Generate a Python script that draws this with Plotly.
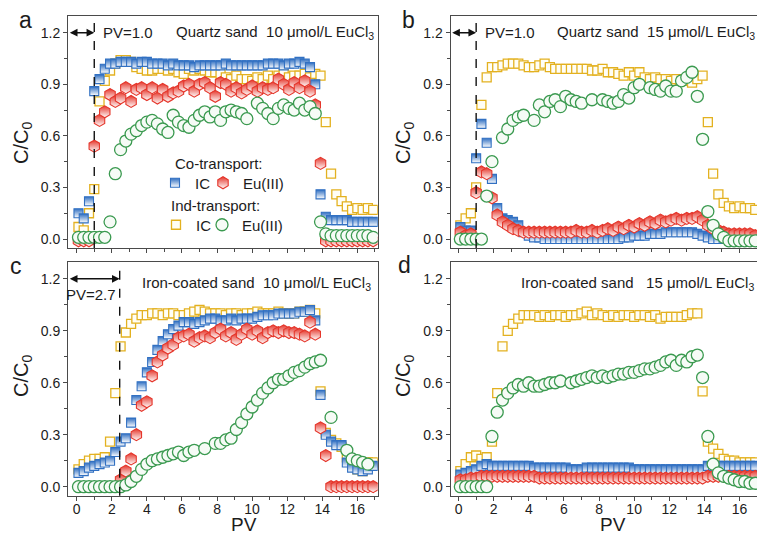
import plotly.graph_objects as go

# ---------------- data ----------------
PV = [0.1, 0.4, 0.7, 1.0, 1.3, 1.6, 1.9, 2.2, 2.5, 2.8,
      3.1, 3.4, 3.7, 4.0, 4.3, 4.6, 4.9, 5.2, 5.5, 5.8,
      6.1, 6.4, 6.7, 7.0, 7.3, 7.6, 7.9, 8.2, 8.5, 8.8,
      9.1, 9.4, 9.7, 10.0, 10.3, 10.6, 10.9, 11.2, 11.5, 11.8,
      12.1, 12.4, 12.7, 13.0, 13.3, 13.6, 13.9, 14.2, 14.5, 14.8,
      15.1, 15.4, 15.7, 16.0, 16.3, 16.6, 16.9]

# (a) Quartz sand, 10 umol/L EuCl3
A_IC_CO = [0.15, 0.12, 0.22, 0.86, 0.93, 0.99, 1.02, 1.02, 1.03, 1.03,
           1.03, 1.02, 1.03, 1.03, 1.02, 1.02, 1.02, 1.01, 1.02, 1.01,
           1.01, 1.01, 1.00, 1.01, 1.01, 1.01, 1.01, 1.01, 1.02, 1.01,
           1.01, 1.01, 1.01, 1.01, 1.01, 1.01, 1.02, 1.02, 1.02, 1.01,
           1.02, 1.02, 1.03, 1.02, 1.00, 0.90, 0.26, 0.13, 0.11, 0.11,
           0.11, 0.11, 0.10, 0.10, 0.10, 0.10, 0.10]
A_EU_CO = [-0.01, -0.01, -0.01, 0.54, 0.69, 0.74, 0.84, 0.80, 0.82, 0.88,
           0.80, 0.87, 0.88, 0.84, 0.88, 0.82, 0.87, 0.83, 0.85, 0.86,
           0.89, 0.90, 0.86, 0.90, 0.91, 0.88, 0.83, 0.91, 0.90, 0.86,
           0.88, 0.85, 0.87, 0.89, 0.86, 0.88, 0.87, 0.88, 0.93, 0.90,
           0.87, 0.91, 0.88, 0.92, 0.86, 0.78, 0.44, -0.01, -0.01, -0.01,
           -0.01, -0.01, -0.01, -0.01, -0.01, -0.01, -0.01]
A_IC_IND = [0.07, 0.05, 0.15, 0.29, 0.80, 0.92, 0.98, 1.02, 1.04, 1.04,
            1.03, 1.00, 0.99, 0.98, 0.98, 0.99, 0.99, 0.98, 0.99, 0.97,
            0.96, 0.99, 0.98, 0.99, 0.98, 0.97, 0.97, 0.96, 0.94, 0.93,
            0.95, 0.93, 0.93, 0.92, 0.94, 0.93, 0.95, 0.93, 0.95, 0.96,
            0.94, 0.95, 0.95, 0.96, 0.94, 0.96, 0.95, 0.68, 0.38, 0.26,
            0.22, 0.19, 0.17, 0.18, 0.17, 0.18, 0.17]
A_EU_IND = [0.01, 0.01, 0.01, 0.01, 0.01, 0.01, 0.10, 0.38, 0.52, 0.57,
            0.61, 0.63, 0.66, 0.68, 0.69, 0.67, 0.64, 0.62, 0.72, 0.68,
            0.66, 0.65, 0.69, 0.72, 0.74, 0.71, 0.74, 0.69, 0.74, 0.75,
            0.74, 0.73, 0.70, None, 0.79, 0.76, 0.73, 0.70, 0.76, 0.78,
            0.76, 0.75, 0.79, 0.75, 0.77, 0.73, 0.10, 0.03, 0.02, 0.02,
            0.02, 0.02, 0.02, 0.02, 0.02, 0.02, 0.01]

# (b) Quartz sand, 15 umol/L EuCl3
B_IC_CO = [0.07, 0.05, 0.05, 0.47, 0.67, 0.56, 0.35, 0.18, 0.12, 0.11,
           0.10, 0.08, 0.04, 0.02, 0.01, 0.01, 0.00, 0.00, 0.00, 0.00,
           0.00, 0.00, 0.00, 0.00, 0.00, 0.00, 0.00, 0.00, 0.00, 0.00,
           0.00, 0.01, 0.01, 0.02, 0.02, 0.02, 0.03, 0.03, 0.03, 0.04,
           0.04, 0.04, 0.04, 0.04, 0.04, 0.03, 0.02, 0.01, 0.00, 0.00,
           0.00, 0.00, 0.00, 0.00, 0.00, 0.00, 0.00]
B_EU_CO = [0.04, 0.02, 0.03, 0.27, 0.39, 0.38, 0.24, 0.14, 0.10, 0.08,
           0.06, 0.05, 0.04, 0.04, 0.04, 0.04, 0.04, 0.04, 0.04, 0.04,
           0.04, 0.04, 0.05, 0.04, 0.04, 0.05, 0.04, 0.05, 0.06, 0.05,
           0.07, 0.06, 0.08, 0.07, 0.09, 0.08, 0.10, 0.09, 0.11, 0.10,
           0.11, 0.12, 0.11, 0.12, 0.12, 0.13, 0.11, 0.08, 0.06, 0.05,
           0.04, 0.03, 0.03, 0.03, 0.03, 0.03, 0.02]
B_IC_IND = [0.08, 0.12, 0.15, 0.30, 0.78, 0.94, 1.00, 1.00, 1.01, 1.02,
            1.02, 1.02, 1.01, 1.00, 1.00, 1.01, 1.02, 1.00, 0.99, 0.99,
            0.99, 0.99, 0.99, 0.99, 0.99, 0.98, 0.98, 0.99, 0.97, 0.97,
            0.96, 0.95, 0.97, 0.95, 0.97, 0.94, 0.93, 0.94, 0.93, 0.93,
            0.92, 0.93, 0.92, 0.92, 0.91, 0.93, 0.95, 0.68, 0.38, 0.26,
            0.21, 0.19, 0.18, 0.19, 0.18, 0.18, 0.17]
B_EU_IND = [0.00, 0.00, 0.00, 0.00, 0.00, 0.25, 0.45, None, 0.59, 0.64,
            0.69, 0.71, 0.72, None, 0.69, 0.78, 0.74, 0.80, 0.81, 0.77,
            0.83, 0.81, 0.80, 0.79, None, 0.81, None, 0.81, 0.80, 0.79,
            0.80, 0.84, 0.82, 0.88, 0.90, None, 0.88, 0.87, 0.86, 0.89,
            0.86, 0.86, 0.92, 0.94, 0.97, 0.83, 0.58, 0.16, 0.08, 0.03,
            0.01, -0.01, -0.01, -0.01, -0.01, -0.01, -0.01]

# (c) Iron-coated sand, 10 umol/L EuCl3
C_IC_CO = [0.08, 0.09, 0.11, 0.12, 0.13, 0.14, 0.15, 0.20, 0.26, 0.28,
           0.37, 0.50, 0.58, 0.66, 0.72, 0.79, 0.84, 0.88, 0.91, 0.93,
           0.95, 0.95, 0.94, 0.95, 0.96, 0.97, 0.97, 0.96, 0.96, 0.97,
           0.96, 0.97, 0.97, 0.97, 0.98, 0.99, 0.99, 0.99, 1.00, 1.00,
           1.00, 1.00, 1.01, 1.01, 1.02, 0.96, 0.53, 0.30, 0.26, 0.24,
           0.24, 0.14, 0.11, 0.10, 0.09, 0.10, 0.12]
C_EU_CO = [None, None, None, None, None, None, None, None, 0.04, 0.09,
           0.16, 0.30, 0.47, 0.49, 0.64, 0.72, 0.76, 0.80, 0.82, 0.86,
           0.87, 0.88, 0.84, 0.86, 0.87, 0.86, 0.89, 0.91, 0.87, 0.89,
           0.85, 0.88, 0.91, 0.88, 0.90, 0.86, 0.89, 0.90, 0.89, 0.90,
           0.89, 0.89, 0.88, 0.87, 0.95, 0.88, 0.34, 0.18, 0.00, 0.00,
           0.00, 0.00, 0.00, 0.00, 0.00, 0.00, 0.00]
C_IC_IND = [0.10, 0.13, 0.15, 0.16, 0.16, 0.17, 0.26, 0.54, 0.81, 0.89,
            0.94, 0.97, 0.99, 0.99, 1.00, 1.00, 0.99, 1.00, 1.00, 0.99,
            0.99, 1.00, 1.01, 1.02, 1.01, 1.00, 1.00, 1.00, 0.99, 1.00,
            1.00, 0.99, 1.00, 1.00, 1.01, 1.00, 1.00, 1.00, 1.01, 1.00,
            1.00, 1.00, 1.01, 1.01, 1.02, 1.00, 0.55, 0.31, 0.27, 0.25,
            0.23, 0.17, 0.13, 0.10, 0.09, 0.14, 0.14]
C_EU_IND = [0.00, 0.00, 0.00, 0.00, 0.00, 0.00, 0.00, 0.00, 0.00, 0.01,
            0.03, 0.06, 0.10, 0.13, 0.15, 0.16, 0.17, 0.18, 0.19, 0.20,
            0.18, 0.20, 0.21, None, 0.22, None, 0.25, 0.25, 0.27, 0.28,
            0.33, 0.37, 0.42, 0.46, 0.50, 0.54, 0.57, 0.60, 0.62, 0.62,
            0.64, 0.66, 0.67, 0.69, 0.71, 0.72, 0.73, None, 0.40, None,
            None, 0.21, 0.16, 0.15, 0.14, 0.13, None]

# (d) Iron-coated sand, 15 umol/L EuCl3
D_IC_CO = [0.07, 0.08, 0.09, 0.10, 0.12, 0.13, 0.12, 0.12, 0.12, 0.12,
           0.12, 0.12, 0.12, 0.12, 0.11, 0.11, 0.11, 0.11, 0.11, 0.11,
           0.11, 0.10, 0.10, 0.10, 0.11, 0.11, 0.11, 0.11, 0.11, 0.11,
           0.11, 0.11, 0.11, 0.10, 0.10, 0.10, 0.10, 0.10, 0.10, 0.10,
           0.10, 0.10, 0.10, 0.10, 0.10, 0.10, 0.10, 0.12, 0.12, 0.12,
           0.12, 0.12, 0.12, 0.12, 0.12, 0.12, 0.12]
D_EU_CO = [0.04, 0.04, 0.05, 0.05, 0.06, 0.06, 0.06, 0.06, 0.06, 0.06,
           0.06, 0.06, 0.06, 0.06, 0.06, 0.05, 0.05, 0.05, 0.05, 0.05,
           0.05, 0.05, 0.05, 0.05, 0.05, 0.05, 0.05, 0.05, 0.05, 0.05,
           0.05, 0.05, 0.05, 0.05, 0.05, 0.05, 0.05, 0.05, 0.05, 0.05,
           0.05, 0.05, 0.05, 0.05, 0.05, 0.05, 0.05, 0.06, 0.06, 0.06,
           0.06, 0.06, 0.06, 0.06, 0.06, 0.06, 0.06]
D_IC_IND = [0.09, 0.13, 0.17, 0.18, 0.16, 0.17, 0.26, 0.54, 0.81, 0.90,
            0.94, 0.97, 0.99, 0.99, 0.99, 0.98, 0.99, 0.98, 0.99, 0.99,
            0.98, 0.99, 0.99, 1.00, 1.01, 0.99, 1.00, 0.99, 0.98, 0.99,
            0.98, 0.99, 0.99, 0.98, 0.99, 0.99, 0.98, 0.99, 0.97, 0.98,
            0.98, 0.98, 0.98, 0.99, 1.00, 1.00, 0.55, 0.26, 0.22, 0.19,
            0.16, 0.15, 0.15, 0.14, 0.14, 0.14, 0.14]
D_EU_IND = [0.00, 0.00, 0.00, 0.00, 0.00, 0.00, 0.29, 0.43, 0.50, 0.54,
            0.57, 0.59, 0.58, 0.60, 0.58, 0.58, 0.59, 0.60, 0.60, 0.61,
            None, 0.60, 0.61, 0.62, 0.63, 0.64, 0.63, 0.64, 0.63, 0.64,
            0.65, 0.65, 0.66, 0.66, 0.67, 0.68, 0.68, 0.69, 0.70, 0.72,
            0.73, 0.70, 0.73, 0.72, 0.75, 0.76, 0.63, 0.29, 0.13, 0.08,
            0.06, 0.05, 0.04, 0.03, 0.03, 0.02, 0.02]

Y_TICKS = [0.0, 0.3, 0.6, 0.9, 1.2]
X_TICKS = [0, 2, 4, 6, 8, 10, 12, 14, 16]
PULSE_AB = 1.0     # dashed guide, panels a/b
PULSE_C = 2.45     # dashed guide, panel c

# ---------------- style ----------------
FONT = "Liberation Sans, Arial, sans-serif"
TXT = "#1c1c1c"
AXC = "#4a4a4a"
BLUE = "#3170c2"
RED = "#e5362b"
GOLD = "#e3b120"
GREEN = "#3b9a50"
W, H = 757, 535


def px(x):
    return x / W


def py(y):
    return 1 - y / H


STY = {
    "ic_ind": dict(symbol="square", size=9, color="#fffef6",
                   line=dict(color=GOLD, width=1.3)),
    "ic_co": dict(symbol="square", size=9, color=BLUE,
                  gradient=dict(type="vertical", color="white"),
                  line=dict(color=BLUE, width=1.1)),
    "eu_co": dict(symbol="hexagon", size=12, color=RED,
                  gradient=dict(type="vertical", color="white"),
                  line=dict(color=RED, width=1.1)),
    "eu_ind": dict(symbol="circle", size=12, color="#f6fbf6",
                   line=dict(color=GREEN, width=1.3)),
}

XL = [68.3, 377.7]
XR = [450.7, 757.0]
YT = [16.0, 248.0]
YB = [262.0, 495.7]
X_RANGE_L = [-0.48, 17.16]
X_RANGE_R = [-0.45, 17.0]
Y_RANGE = [-0.052, 1.297]

panels = [
    ("a", "", XL, YT, X_RANGE_L, False, A_IC_IND, A_IC_CO, A_EU_CO, A_EU_IND),
    ("b", "2", XR, YT, X_RANGE_R, False, B_IC_IND, B_IC_CO, B_EU_CO, B_EU_IND),
    ("c", "3", XL, YB, X_RANGE_L, True, C_IC_IND, C_IC_CO, C_EU_CO, C_EU_IND),
    ("d", "4", XR, YB, X_RANGE_R, True, D_IC_IND, D_IC_CO, D_EU_CO, D_EU_IND),
]

fig = go.Figure()
layout = dict(width=W, height=H, margin=dict(l=0, r=0, t=0, b=0),
              paper_bgcolor="white", plot_bgcolor="white",
              font=dict(family=FONT, color=TXT), showlegend=True)

for key, s, xd, yd, xr, xlab, ic_ind, ic_co, eu_co, eu_ind in panels:
    xa, ya = "x" + s, "y" + s
    first = key == "a"
    series = [("ic_ind", ic_ind, "IC", "legend3"),
              ("ic_co", ic_co, "IC", "legend"),
              ("eu_co", eu_co, "Eu(III)", "legend2"),
              ("eu_ind", eu_ind, "Eu(III)", "legend4")]
    for sk, ys, nm, lg in series:
        fig.add_trace(go.Scatter(x=PV, y=ys, xaxis=xa, yaxis=ya, mode="markers",
                                 marker=STY[sk], name=nm, legend=lg,
                                 showlegend=first, hoverinfo="skip"))
    right = xd is XR
    layout["xaxis" + s] = dict(
        domain=[px(xd[0]), px(xd[1])], range=xr, anchor=ya,
        showline=True, linecolor=AXC, linewidth=1.4, mirror=True,
        ticks="outside", ticklen=4, tickwidth=1.2, tickcolor=AXC,
        tickvals=X_TICKS, showticklabels=xlab, ticklabelstandoff=-4,
        tickfont=dict(size=14, color=TXT, family=FONT),
        showgrid=False, zeroline=False,
        minor=dict(dtick=1, tick0=0, ticks="outside", ticklen=3,
                   tickcolor=AXC, tickwidth=1, showgrid=False))
    layout["yaxis" + s] = dict(
        domain=[py(yd[1]), py(yd[0])], range=Y_RANGE, anchor=xa,
        showline=True, linecolor=AXC, linewidth=1.4, mirror=not right,
        ticks="outside", ticklen=4, tickwidth=1.2, tickcolor=AXC,
        tickvals=Y_TICKS, tickformat=".1f",
        tickfont=dict(size=14, color=TXT, family=FONT),
        showgrid=False, zeroline=False,
        minor=dict(dtick=0.15, tick0=0, ticks="outside", ticklen=3,
                   tickcolor=AXC, tickwidth=1, showgrid=False))


def leg(x, y):
    return dict(x=px(x), y=py(y), xanchor="left", yanchor="middle",
                orientation="h", bgcolor="rgba(0,0,0,0)", borderwidth=0,
                font=dict(size=15, family=FONT, color=TXT))


layout["legend"] = leg(155, 183)
layout["legend2"] = leg(203, 183)
layout["legend3"] = leg(156, 225)
layout["legend4"] = leg(202, 225)

NB = "\u00a0"
ann = []


def txt(x, y, t, size=15, xanchor="center", **kw):
    ann.append(dict(x=px(x), y=py(y), xref="paper", yref="paper", text=t,
                    showarrow=False, xanchor=xanchor, yanchor="middle",
                    font=dict(size=size, family=FONT, color=TXT), **kw))


# panel letters
txt(25, 20, "a", 23)
txt(408, 20, "b", 23)
txt(16, 266, "c", 23)
txt(405, 265, "d", 23)
# y titles
for xx, yy in [(22, 143), (404, 143), (22, 376), (404, 376)]:
    txt(xx, yy, "C/C<sub>0</sub>", 20, textangle=-90)
# x titles
txt(244, 524, "PV", 19)
txt(613, 524, "PV", 19)
# in-panel labels
txt(128, 33, "PV=1.0", 15)
txt(376, 33, "Quartz sand" + NB * 2 + "10 \u03bcmol/L EuCl<sub>3</sub>", 15, xanchor="right")
txt(510, 33, "PV=1.0", 15)
txt(757, 33, "Quartz sand" + NB * 2 + "15 \u03bcmol/L EuCl<sub>3</sub>", 15, xanchor="right")
txt(373, 283, "Iron-coated sand" + NB * 2 + "10 \u03bcmol/L EuCl<sub>3</sub>", 15, xanchor="right")
txt(91, 294, "PV=2.7", 15)
txt(756, 283, "Iron-coated sand" + NB * 3 + "15 \u03bcmol/L EuCl<sub>3</sub>", 15, xanchor="right")
# legend headings
txt(173, 163, "Co-transport:", 15, xanchor="left")
txt(169, 206, "Ind-transport:", 15, xanchor="left")

# double-headed arrows
for s, xr, xe in [("", X_RANGE_L, PULSE_AB), ("2", X_RANGE_R, PULSE_AB), ("3", X_RANGE_L, PULSE_C)]:
    ann.append(dict(x=xe, y=1.2, ax=xr[0], ay=1.2, xref="x" + s, yref="y" + s,
                    axref="x" + s, ayref="y" + s, text="", showarrow=True,
                    arrowhead=2, startarrowhead=2, arrowside="end+start",
                    arrowsize=1.1, startarrowsize=1.1, arrowwidth=1.4,
                    arrowcolor="#111", standoff=0, startstandoff=0))

layout["annotations"] = ann
layout["shapes"] = [
    dict(type="line", xref="x", yref="y domain", x0=PULSE_AB, x1=PULSE_AB, y0=0, y1=1,
         line=dict(color="#111", width=1.4, dash="dash")),
    dict(type="line", xref="x2", yref="y2 domain", x0=PULSE_AB, x1=PULSE_AB, y0=0, y1=1,
         line=dict(color="#111", width=1.4, dash="dash")),
    dict(type="line", xref="x3", yref="y3 domain", x0=PULSE_C, x1=PULSE_C, y0=0, y1=1,
         line=dict(color="#111", width=1.4, dash="dash")),
]

fig.update_layout(**layout)
fig.write_html("out.html")
